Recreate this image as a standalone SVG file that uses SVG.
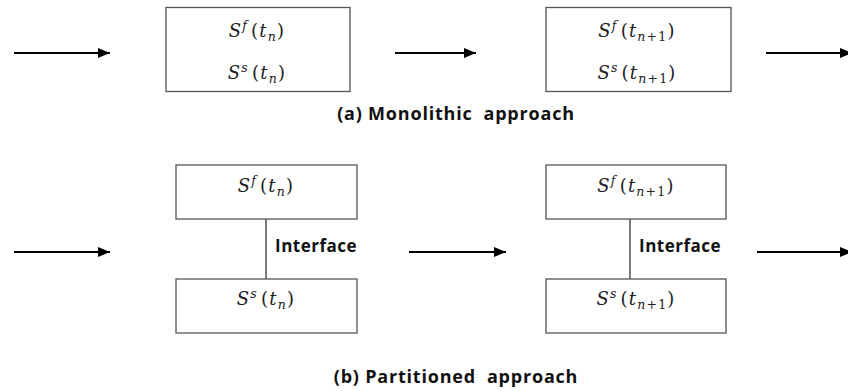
<svg xmlns="http://www.w3.org/2000/svg" width="848" height="391" viewBox="0 0 848 391">
<style>
.box{fill:#fff;stroke:#555;stroke-width:1.3}
.link{stroke:#333;stroke-width:1.3;fill:none}
.arr{stroke:#000;stroke-width:2;fill:none}
.m{font-family:"DejaVu Serif","Liberation Serif",serif;font-size:18px;fill:#222;letter-spacing:1.2px}
.i{font-style:italic}
.sm{font-size:12.5px}
.lab{font-family:"Open Sans","DejaVu Sans",sans-serif;font-weight:bold;font-size:18px;letter-spacing:0.8px;fill:#111;white-space:pre}
.ifc{font-family:"Open Sans","DejaVu Sans",sans-serif;font-weight:bold;font-size:17px;letter-spacing:0.5px;fill:#111}
</style>
<defs>
<marker id="ah" markerWidth="12" markerHeight="10" refX="12" refY="5" orient="auto" markerUnits="userSpaceOnUse">
<path d="M0,0 L12,5 L0,10 Z" fill="#000"/>
</marker>
</defs>
<g id="connectors">
<line class="arr" x1="14" y1="53" x2="110" y2="53" marker-end="url(#ah)"/>
<line class="arr" x1="395" y1="53" x2="476" y2="53" marker-end="url(#ah)"/>
<line class="arr" x1="766" y1="53" x2="852" y2="53" marker-end="url(#ah)"/>
<line class="arr" x1="14" y1="252" x2="110" y2="252" marker-end="url(#ah)"/>
<line class="arr" x1="409" y1="252" x2="506" y2="252" marker-end="url(#ah)"/>
<line class="arr" x1="757" y1="252" x2="852" y2="252" marker-end="url(#ah)"/>
<line class="link" x1="266" y1="219" x2="266" y2="279"/>
<line class="link" x1="630" y1="219" x2="630" y2="279"/>
</g>
<g id="mono-n">
<rect class="box" x="166" y="7.5" width="184" height="84"/>
<text class="m" x="257" y="37" text-anchor="middle"><tspan class="i">S</tspan><tspan class="i sm" dy="-7">f</tspan><tspan dy="7" dx="3">(</tspan><tspan class="i">t</tspan><tspan class="i sm" dy="4">n</tspan><tspan dy="-4">)</tspan></text>
<text class="m" x="257" y="79" text-anchor="middle"><tspan class="i">S</tspan><tspan class="i sm" dy="-7">s</tspan><tspan dy="7" dx="3">(</tspan><tspan class="i">t</tspan><tspan class="i sm" dy="4">n</tspan><tspan dy="-4">)</tspan></text>
</g>
<g id="mono-n1">
<rect class="box" x="546" y="7.5" width="185" height="84"/>
<text class="m" x="637" y="37" text-anchor="middle"><tspan class="i">S</tspan><tspan class="i sm" dy="-7">f</tspan><tspan dy="7" dx="3">(</tspan><tspan class="i">t</tspan><tspan class="i sm" dy="4">n</tspan><tspan class="sm">+1</tspan><tspan dy="-4">)</tspan></text>
<text class="m" x="637" y="79" text-anchor="middle"><tspan class="i">S</tspan><tspan class="i sm" dy="-7">s</tspan><tspan dy="7" dx="3">(</tspan><tspan class="i">t</tspan><tspan class="i sm" dy="4">n</tspan><tspan class="sm">+1</tspan><tspan dy="-4">)</tspan></text>
</g>
<g id="label-a">
<text class="lab" x="456" y="120" text-anchor="middle">(a) Monolithic  approach</text>
</g>
<g id="part-f-n">
<rect class="box" x="176" y="165" width="181" height="54"/>
<text class="m" x="266" y="192" text-anchor="middle"><tspan class="i">S</tspan><tspan class="i sm" dy="-7">f</tspan><tspan dy="7" dx="3">(</tspan><tspan class="i">t</tspan><tspan class="i sm" dy="4">n</tspan><tspan dy="-4">)</tspan></text>
</g>
<g id="part-s-n">
<rect class="box" x="176" y="279" width="181" height="54"/>
<text class="m" x="266" y="305" text-anchor="middle"><tspan class="i">S</tspan><tspan class="i sm" dy="-7">s</tspan><tspan dy="7" dx="3">(</tspan><tspan class="i">t</tspan><tspan class="i sm" dy="4">n</tspan><tspan dy="-4">)</tspan></text>
</g>
<g id="interface-n">
<text class="ifc" x="275" y="252">Interface</text>
</g>
<g id="part-f-n1">
<rect class="box" x="546" y="165" width="180" height="54"/>
<text class="m" x="636" y="192" text-anchor="middle"><tspan class="i">S</tspan><tspan class="i sm" dy="-7">f</tspan><tspan dy="7" dx="3">(</tspan><tspan class="i">t</tspan><tspan class="i sm" dy="4">n</tspan><tspan class="sm">+1</tspan><tspan dy="-4">)</tspan></text>
</g>
<g id="part-s-n1">
<rect class="box" x="546" y="279" width="180" height="54"/>
<text class="m" x="636" y="305" text-anchor="middle"><tspan class="i">S</tspan><tspan class="i sm" dy="-7">s</tspan><tspan dy="7" dx="3">(</tspan><tspan class="i">t</tspan><tspan class="i sm" dy="4">n</tspan><tspan class="sm">+1</tspan><tspan dy="-4">)</tspan></text>
</g>
<g id="interface-n1">
<text class="ifc" x="639" y="252">Interface</text>
</g>
<g id="label-b">
<text class="lab" x="456" y="383" text-anchor="middle">(b) Partitioned  approach</text>
</g>
</svg>
